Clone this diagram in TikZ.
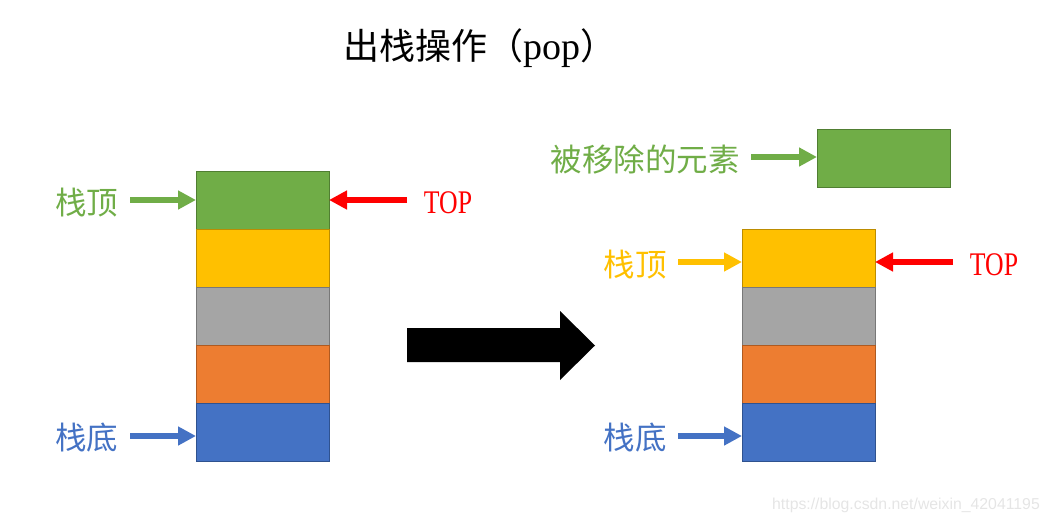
\documentclass[tikz,border=0pt]{standalone}
\usepackage{fontspec}
\setmainfont{Liberation Serif}
\newfontfamily\cjkfont{Noto Sans CJK SC}
\newfontfamily\topfont[FakeStretch=0.78]{Liberation Serif}
\newfontfamily\wmfont{Liberation Sans}
\usetikzlibrary{arrows.meta}
\definecolor{cgreen}{HTML}{70AD47}
\definecolor{cgreenD}{HTML}{507E32}
\definecolor{cyellow}{HTML}{FFC000}
\definecolor{cyellowD}{HTML}{BC8C00}
\definecolor{cgray}{HTML}{A5A5A5}
\definecolor{cgrayD}{HTML}{787878}
\definecolor{corange}{HTML}{ED7D31}
\definecolor{corangeD}{HTML}{AE5A21}
\definecolor{cblue}{HTML}{4472C4}
\definecolor{cblueD}{HTML}{2F528F}
\definecolor{cred}{HTML}{FF0000}
\tikzset{
  cell/.style={draw=#1D, fill=#1, line width=0.8pt, minimum width=133pt, minimum height=58pt, inner sep=0pt, outer sep=0pt},
  lbl/.style={text=#1, font=\cjkfont\fontsize{31.5}{35}\selectfont, inner sep=0pt},
  toplbl/.style={text=cred, font=\topfont\fontsize{33}{36}\selectfont, inner sep=0pt},
  parrow/.style={draw=#1, line width=5.5pt, -{Triangle[length=18pt,width=18pt]}, shorten >=0pt},
}
\begin{document}
\begin{tikzpicture}[x=1pt,y=-1pt]
\useasboundingbox (0,0) rectangle (1052,522);
% title
\node[inner sep=0pt] (title) at (480,48) {\cjkfont\fontsize{36}{40}\selectfont 出栈操作（{\rmfamily\fontsize{38}{40}\selectfont pop}）};
% left stack
\node[cell=cgreen]  (lg) at (262.5,200) {};
\node[cell=cyellow] (ly) at (262.5,258) {};
\node[cell=cgray]   (la) at (262.5,316) {};
\node[cell=corange] (lo) at (262.5,374) {};
\node[cell=cblue]   (lb) at (262.5,432) {};
% left labels
\node[lbl=cgreen] (ltop) at (86.5,203) {栈顶};
\coordinate (ltopS) at (130,200);
\draw[parrow=cgreen] (ltopS) -- (lg.west |- ltopS);
\node[lbl=cblue] (lbot) at (86.5,438) {栈底};
\coordinate (lbotS) at (130,436);
\draw[parrow=cblue] (lbotS) -- (lb.west |- lbotS);
\node[toplbl] (lTOP) at (448,203) {TOP};
\coordinate (lTOPS) at (407,200);
\draw[parrow=cred] (lTOPS) -- (lg.east |- lTOPS);
% big arrow
\fill[black] (407,328) -- (560,328) -- (560,311) -- (595,345.5) -- (560,380) -- (560,362) -- (407,362) -- cycle;
% right stack
\node[cell=cyellow] (ry) at (808.5,258) {};
\node[cell=cgray]   (ra) at (808.5,316) {};
\node[cell=corange] (ro) at (808.5,374) {};
\node[cell=cblue]   (rb) at (808.5,432) {};
\node[cell=cgreen]  (rg) at (883.5,158) {};
% right labels
\node[lbl=cgreen] (rem) at (645,159) {被移除的元素};
\coordinate (remS) at (751,157);
\draw[parrow=cgreen] (remS) -- (rg.west |- remS);
\node[lbl=cyellow] (rtop) at (635,265) {栈顶};
\coordinate (rtopS) at (678,262);
\draw[parrow=cyellow] (rtopS) -- (ry.west |- rtopS);
\node[lbl=cblue] (rbot) at (635,438) {栈底};
\coordinate (rbotS) at (678,436);
\draw[parrow=cblue] (rbotS) -- (rb.west |- rbotS);
\node[toplbl] (rTOP) at (994,265) {TOP};
\coordinate (rTOPS) at (953,262);
\draw[parrow=cred] (rTOPS) -- (ry.east |- rTOPS);
% watermark
\node[text=black!10, font=\wmfont\fontsize{15.8}{18}\selectfont, inner sep=0pt] (wm) at (906,505) {https://blog.csdn.net/weixin\_42041195};
\end{tikzpicture}
\end{document}
